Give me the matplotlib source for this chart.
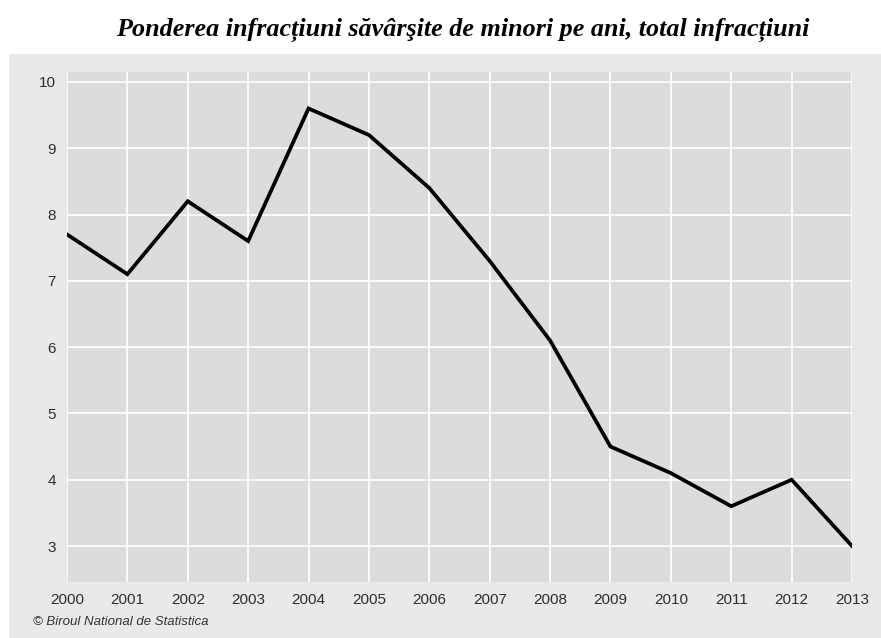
import matplotlib
matplotlib.use("Agg")
import matplotlib.pyplot as plt
from matplotlib.patches import Rectangle

years = [2000, 2001, 2002, 2003, 2004, 2005, 2006, 2007, 2008, 2009, 2010, 2011, 2012, 2013]
share = [7.7, 7.1, 8.2, 7.6, 9.6, 9.2, 8.4, 7.3, 6.1, 4.5, 4.1, 3.6, 4.0, 3.0]
yticks = [3, 4, 5, 6, 7, 8, 9, 10]

title = "Ponderea infracțiuni săvârşite de minori pe ani, total infracțiuni"
source = "© Biroul National de Statistica"

W, H = 881, 638
fig = plt.figure(figsize=(W / 100, H / 100), dpi=100)
fig.patch.set_facecolor("white")

# grey panel behind the chart
fig.patches.append(Rectangle((9 / W, 0), 1 - 9 / W, 1 - 54 / H,
                             transform=fig.transFigure, facecolor="#e9e9e9",
                             edgecolor="none", zorder=-5))

ax = fig.add_axes([67 / W, 1 - 582 / H, (852 - 67) / W, (582 - 72) / H])
ax.set_zorder(1)
ax.set_facecolor("#dcdcdc")
ax.plot(years, share, color="black", lw=2.7, solid_joinstyle="miter", zorder=3)

ax.set_xlim(2000, 2013)
ax.set_ylim(2.457, 10.15)
ax.set_xticks(years)
ax.set_yticks(yticks)
ax.grid(True, color="white", lw=1.2)
ax.set_axisbelow(True)
for s in ax.spines.values():
    s.set_visible(False)
ax.tick_params(length=0, labelsize=11, labelcolor="#2e2e2e", pad=8)
for lab in ax.get_xticklabels() + ax.get_yticklabels():
    lab.set_fontfamily("Liberation Sans")

fig.text(463 / W, 1 - 30 / H, title, ha="center", va="center",
         fontfamily="Liberation Serif", fontweight="bold", fontstyle="italic",
         fontsize=18.8, color="black")
fig.text(33 / W, 1 - 622 / H, source, ha="left", va="center",
         fontfamily="Liberation Sans", fontstyle="italic", fontsize=9.5,
         color="#333333")

fig.savefig("out.png", dpi=100)
